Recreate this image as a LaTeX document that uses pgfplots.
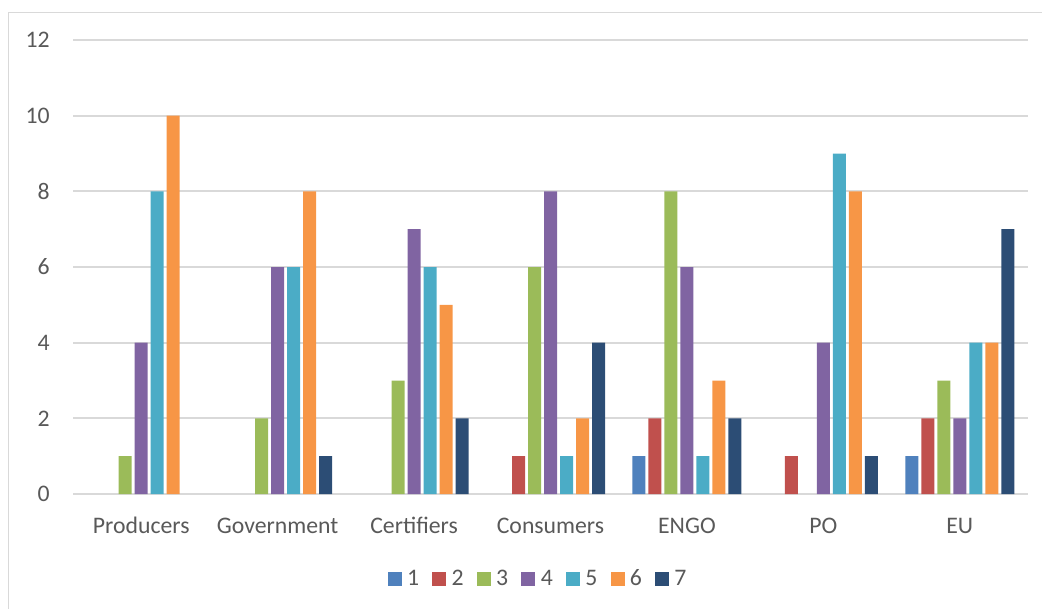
\documentclass[border=0pt]{standalone}
\usepackage{pgfplots}
\usepackage{pgfplotstable}
\usepackage{fontspec}
\setmainfont{Carlito}
\pgfplotsset{compat=1.18}

\definecolor{gridgray}{HTML}{D9D9D9}
\definecolor{labelgray}{HTML}{595959}
\definecolor{c1}{HTML}{4F81BD}
\definecolor{c2}{HTML}{C0504D}
\definecolor{c3}{HTML}{9BBB59}
\definecolor{c4}{HTML}{8064A2}
\definecolor{c5}{HTML}{4BACC6}
\definecolor{c6}{HTML}{F79646}
\definecolor{c7}{HTML}{2C4D75}

% Counts per stakeholder group (rows) for scores 1..7 (columns)
\pgfplotstableread{
x s1 s2 s3 s4 s5 s6 s7
0 0  0  1  4  8  10 0
1 0  0  2  6  6  8  1
2 0  0  3  7  6  5  2
3 0  1  6  8  1  2  4
4 1  2  8  6  1  3  2
5 0  1  0  4  9  8  1
6 1  2  3  2  4  4  7
}\scores

\newcommand{\lblfont}{\fontsize{17.8}{21}\selectfont}

\begin{document}
\begin{tikzpicture}
\useasboundingbox (0,0) rectangle (781.5pt,-456pt);
% chart frame
\draw[gridgray, line width=1.1pt] (6.4pt,-460pt) -- (6.4pt,-9.4pt) -- (785pt,-9.4pt);
\begin{axis}[
  at={(54.75pt,-30pt)}, anchor=north west,
  scale only axis,
  width=716.25pt, height=340.5pt,
  ybar=2.25pt, bar width=9.75pt,
  xmin=-0.5, xmax=6.5,
  ymin=0, ymax=12,
  ytick={0,2,...,12},
  xtick={0,...,6},
  xticklabels={Producers,Government,Certifiers,Consumers,ENGO,PO,EU},
  axis line style={draw=none},
  major tick length=0pt,
  ymajorgrids,
  grid style={gridgray, line width=1.3pt},
  % empty cells (zero counts) draw no bar
  unbounded coords=discard,
  y filter/.expression={y==0 ? nan : y},
  /pgf/number format/assume math mode=true,
  tick label style={labelgray, font=\lblfont},
  yticklabel style={anchor=east, inner sep=0pt, xshift=-17.25pt},
  xticklabel style={anchor=base, inner sep=0pt, yshift=-29.25pt},
  legend columns=7,
  legend style={at={(0.486,-0.187)}, anchor=center, draw=none,
    font=\lblfont, text=labelgray,
    nodes={inner sep=0pt},
    /tikz/every odd column/.append style={column sep=4pt},
    /tikz/every even column/.append style={column sep=9.9pt}},
  legend image code/.code={\fill[#1] (0pt,-5.25pt) rectangle (10.5pt,5.25pt);},
]
\addplot[fill=c1, draw=none] table[x=x, y=s1] {\scores};
\addplot[fill=c2, draw=none] table[x=x, y=s2] {\scores};
\addplot[fill=c3, draw=none] table[x=x, y=s3] {\scores};
\addplot[fill=c4, draw=none] table[x=x, y=s4] {\scores};
\addplot[fill=c5, draw=none] table[x=x, y=s5] {\scores};
\addplot[fill=c6, draw=none] table[x=x, y=s6] {\scores};
\addplot[fill=c7, draw=none] table[x=x, y=s7] {\scores};
\legend{1,2,3,4,5,6,7}
\end{axis}
\end{tikzpicture}
\end{document}
